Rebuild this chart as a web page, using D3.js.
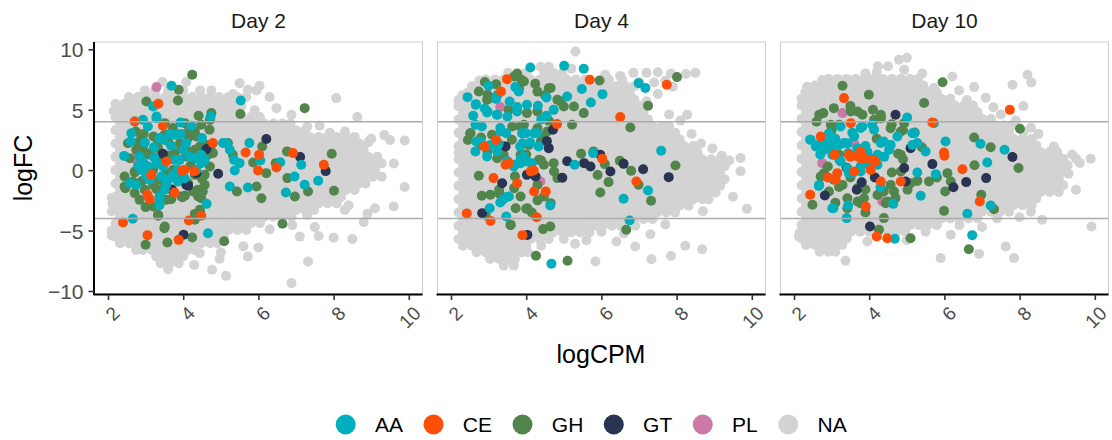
<!DOCTYPE html>
<html>
<head>
<meta charset="utf-8">
<script src="https://cdn.jsdelivr.net/npm/d3@7"></script>
<style>
  html, body { margin: 0; padding: 0; background: #ffffff; }
  svg { display: block; font-family: "Liberation Sans", Arial, Helvetica, sans-serif; }
</style>
</head>
<body>
<svg id="chart" width="1112" height="440"></svg>
<script>
// ---- data --------------------------------------------------------------
const days = ["Day 2", "Day 4", "Day 10"];
const groups = ["AA", "CE", "GH", "GT", "PL", "NA"];
const groupColors = ["#00AFBB", "#FC4E07", "#52854C", "#293352", "#CC79A7", "#D3D3D3"];
const xTicks = [2, 4, 6, 8, 10];
const yTicks = [-10, -5, 0, 5, 10];
const cutoffs = [-4, 4];

// Unannotated genes (NA), one string per logFC band: "logFC: logCPM logCPM ... logCPM/logFC"
const greyDay2 = [
  "7.3: 3.45 4.08 5.5/7.2 6.03/6.98",
  "6.6: 2.98 3.25 3.6 4.0 4.45 4.75 5.32/6.3 5.72/6.65 5.95",
  "6.05: 2.56 2.8 3.04 3.28 3.52 3.76 4.0 4.24 4.48 4.72 4.96 5.2 5.44 5.68 6.3 8.07/5.96",
  "5.5: 2.2 2.44 2.68 2.92 3.16 3.4 3.64 3.88 4.12 4.36 4.6 4.84 5.08 5.32/5.4 5.55/5.3",
  "4.95: 2.32 2.56 2.8 3.04 3.28 3.52 3.76 4.0 4.24 4.48 4.72 4.96 5.2 5.44 5.9 6.48/5.13 2.15/4.9",
  "4.4: 2.2 2.44 2.68 2.92 3.16 3.4 3.64 3.88 4.12 4.36 4.6 4.84 5.08 5.32 5.56 5.8 6.04 6.88/4.58 8.63/4.39",
  "3.85: 2.32 2.56 2.8 3.04 3.28 3.52 3.76 4.0 4.24 4.48 4.72 4.96 5.2 5.44 5.68 5.92 6.16 6.4 6.64 6.85 7.3/3.6 7.63/3.67",
  "3.3: 2.2 2.44 2.68 2.92 3.16 3.4 3.64 3.88 4.12 4.36 4.6 4.84 5.08 5.32 5.56 5.8 6.04 6.28 6.52 6.76 7.0 7.24 7.9/3.1 8.3/3.2",
  "2.75: 2.32 2.56 2.8 3.04 3.28 3.52 3.76 4.0 4.24 4.48 4.72 4.96 5.2 5.44 5.68 5.92 6.16 6.4 6.64 6.88 7.12 7.36 7.6 7.84 8.08 8.32 8.56 9.0/2.6 9.35/2.9",
  "2.2: 2.2 2.44 2.68 2.92 3.16 3.4 3.64 3.88 4.12 4.36 4.6 4.84 5.08 5.32 5.56 5.8 6.04 6.28 6.52 6.76 7.0 7.24 7.48 7.72 7.96 8.2 8.44 8.68 8.92/2.3 9.5/2.5 9.89/2.45",
  "1.65: 2.32 2.56 2.8 3.04 3.28 3.52 3.76 4.0 4.24 4.48 4.72 4.96 5.2 5.44 5.68 5.92 6.16 6.4 6.64 6.88 7.12 7.36 7.6 7.84 8.08 8.32 8.56 8.8",
  "1.1: 2.2 2.44 2.68 2.92 3.16 3.4 3.64 3.88 4.12 4.36 4.6 4.84 5.08 5.32 5.56 5.8 6.04 6.28 6.52 6.76 7.0 7.24 7.48 7.72 7.96 8.2 8.44 8.68 8.92 9.16",
  "0.55: 2.32 2.56 2.8 3.04 3.28 3.52 3.76 4.0 4.24 4.48 4.72 4.96 5.2 5.44 5.68 5.92 6.16 6.4 6.64 6.88 7.12 7.36 7.6 7.84 8.08 8.32 8.56 8.8 9.04 9.28 9.6",
  "0.0: 2.2 2.44 2.68 2.92 3.16 3.4 3.64 3.88 4.12 4.36 4.6 4.84 5.08 5.32 5.56 5.8 6.04 6.28 6.52 6.76 7.0 7.24 7.48 7.72 7.96 8.2 8.44 8.68 8.92 9.1",
  "-0.55: 2.32 2.56 2.8 3.04 3.28 3.52 3.76 4.0 4.24 4.48 4.72 4.96 5.2 5.44 5.68 5.92 6.16 6.4 6.64 6.88 7.12 7.36 7.6 7.84 8.08 8.32 8.56 8.8 9.04 9.28",
  "-1.1: 2.2 2.44 2.68 2.92 3.16 3.4 3.64 3.88 4.12 4.36 4.6 4.84 5.08 5.32 5.56 5.8 6.04 6.28 6.52 6.76 7.0 7.24 7.48 7.72 7.96 8.2 8.44 8.68 8.85 9.89/-1.4",
  "-1.65: 2.32 2.56 2.8 3.04 3.28 3.52 3.76 4.0 4.24 4.48 4.72 4.96 5.2 5.44 5.68 5.92 6.16 6.4 6.64 6.88 7.12 7.36 7.6 7.84 8.08 8.32 8.56",
  "-2.2: 2.2 2.44 2.68 2.92 3.16 3.4 3.64 3.88 4.12 4.36 4.6 4.84 5.08 5.32 5.56 5.8 6.04 6.28 6.52 6.76 7.0 7.24 7.48 7.72 7.96 8.2 2.1/-2.3",
  "-2.75: 2.32 2.56 2.8 3.04 3.28 3.52 3.76 4.0 4.24 4.48 4.72 4.96 5.2 5.44 5.68 5.92 6.16 6.4 6.64 6.88 7.12 7.36 7.6 7.84 8.08 8.4/-2.9 2.12/-2.8",
  "-3.3: 2.2 2.44 2.68 2.92 3.16 3.4 3.64 3.88 4.12 4.36 4.6 4.84 5.08 5.32 5.56 5.8 6.04 6.28 6.52 6.76 7.0 7.24 7.48 8.3 9.1/-3.15 9.6/-3.0 2.1/-3.4",
  "-3.85: 2.32 2.56 2.8 3.04 3.28 3.52 3.76 4.0 4.24 4.48 4.72 4.96 5.2 5.44 5.68 5.92 6.16 6.4 6.64 6.88 7.3/-3.7 8.9/-3.6",
  "-4.4: 2.2 2.44 2.68 2.92 3.16 3.4 3.64 3.88 4.12 4.36 4.6 4.84 5.08 5.32 5.56 5.8 6.04 6.9/-4.55 7.5/-4.7 8.8/-4.3",
  "-4.95: 2.32 2.56 2.8 3.04 3.28 3.52 3.76 4.0 4.24 4.48 4.72 4.96 5.2 5.44 5.68 6.3/-4.9 2.1/-5.0",
  "-5.5: 2.2 2.44 2.68 2.92 3.16 3.4 3.64 3.88 4.12 4.36 4.6 4.84 5.08 7.1/-5.5 7.6/-5.45 8.0/-5.6 8.5/-5.7 2.1/-5.4",
  "-6.05: 2.32 2.56 2.8 3.04 3.28 3.52 3.76 4.0 4.24 4.48 4.72 4.9 5.6/-6.3 6.0/-6.4",
  "-6.6: 2.75 2.92 3.16 3.4 3.64 3.88 4.12 4.3 5.0/-6.8",
  "-7.15: 3.28 3.52 3.76 4.0 4.44/-6.87 4.97/-7.34 5.72 7.32/-7.56",
  "-7.7: 3.4 3.64 3.88 4.29/-7.84",
  "-8.2: 3.6 4.77/-8.25 5.14/-8.75",
  "-9.35: 6.88"
];
const greyDay4 = [
  "9.82: 5.31",
  "8.55: 4.38 4.6 5.2/8.4",
  "8.05: 3.52 3.76 4.0 4.48 4.72 4.96 6.1/7.9 6.5/7.8 6.85 7.2 7.5/8.1 7.85/8.0 8.25/7.95 8.5/8.05",
  "7.5: 2.92 3.16 3.4 3.64 3.88 4.12 4.36 4.6 4.84 5.08 5.32 5.56 6.2 6.55 7.0/7.3 7.4/7.25 7.7/7.4 2.75/7.4",
  "6.95: 2.56 2.8 3.04 3.28 3.52 3.76 4.0 4.24 4.48 4.72 4.96 5.2 5.44 5.68 5.92 6.16 6.4 6.64 6.88 7.9/6.9",
  "6.4: 2.44 2.68 2.92 3.16 3.4 3.64 3.88 4.12 4.36 4.6 4.84 5.08 5.32 5.56 5.8 6.04 6.28 6.52 6.76 7.5/6.3 2.3/6.2",
  "5.85: 2.32 2.56 2.8 3.04 3.28 3.52 3.76 4.0 4.24 4.48 4.72 4.96 5.2 5.44 5.68 5.92 6.16 6.4 6.64 6.88 7.2/5.7 2.2/5.8",
  "5.3: 2.2 2.44 2.68 2.92 3.16 3.4 3.64 3.88 4.12 4.36 4.6 4.84 5.08 5.32 5.56 5.8 6.04 6.28 6.52 6.76 7.0",
  "4.75: 2.32 2.56 2.8 3.04 3.28 3.52 3.76 4.0 4.24 4.48 4.72 4.96 5.2 5.44 5.68 5.92 6.16 6.4 6.64 6.88 7.12 7.8/4.6 8.28/4.58",
  "4.2: 2.2 2.44 2.68 2.92 3.16 3.4 3.64 3.88 4.12 4.36 4.6 4.84 5.08 5.32 5.56 5.8 6.04 6.28 6.52 6.76 7.0 7.24 8.1/4.1",
  "3.65: 2.32 2.56 2.8 3.04 3.28 3.52 3.76 4.0 4.24 4.48 4.72 4.96 5.2 5.44 5.68 5.92 6.16 6.4 6.64 6.88 7.12 7.36 7.6 7.8",
  "3.1: 2.2 2.44 2.68 2.92 3.16 3.4 3.64 3.88 4.12 4.36 4.6 4.84 5.08 5.32 5.56 5.8 6.04 6.28 6.52 6.76 7.0 7.24 7.48 7.72 7.96 8.4/3.0",
  "2.55: 2.32 2.56 2.8 3.04 3.28 3.52 3.76 4.0 4.24 4.48 4.72 4.96 5.2 5.44 5.68 5.92 6.16 6.4 6.64 6.88 7.12 7.36 7.6 7.84 8.08 8.65/2.2",
  "2.0: 2.2 2.44 2.68 2.92 3.16 3.4 3.64 3.88 4.12 4.36 4.6 4.84 5.08 5.32 5.56 5.8 6.04 6.28 6.52 6.76 7.0 7.24 7.48 7.72 7.96 8.2 8.44 8.95/1.8",
  "1.45: 2.32 2.56 2.8 3.04 3.28 3.52 3.76 4.0 4.24 4.48 4.72 4.96 5.2 5.44 5.68 5.92 6.16 6.4 6.64 6.88 7.12 7.36 7.6 7.84 8.08 8.32 8.56 9.2/1.2 2.2/1.46",
  "0.9: 2.2 2.44 2.68 2.92 3.16 3.4 3.64 3.88 4.12 4.36 4.6 4.84 5.08 5.32 5.56 5.8 6.04 6.28 6.52 6.76 7.0 7.24 7.48 7.72 7.96 8.2 8.44 8.68 8.92 9.16 9.4/0.8 9.7/1.0",
  "0.35: 2.32 2.56 2.8 3.04 3.28 3.52 3.76 4.0 4.24 4.48 4.72 4.96 5.2 5.44 5.68 5.92 6.16 6.4 6.64 6.88 7.12 7.36 7.6 7.84 8.08 8.32 8.56 8.8 9.04 9.28",
  "-0.2: 2.2 2.44 2.68 2.92 3.16 3.4 3.64 3.88 4.12 4.36 4.6 4.84 5.08 5.32 5.56 5.8 6.04 6.28 6.52 6.76 7.0 7.24 7.48 7.72 7.96 8.2 8.44 8.68 8.92 9.16 9.7/-0.1",
  "-0.75: 2.32 2.56 2.8 3.04 3.28 3.52 3.76 4.0 4.24 4.48 4.72 4.96 5.2 5.44 5.68 5.92 6.16 6.4 6.64 6.88 7.12 7.36 7.6 7.84 8.08 8.32 8.56 8.8 9.04 9.28",
  "-1.3: 2.2 2.44 2.68 2.92 3.16 3.4 3.64 3.88 4.12 4.36 4.6 4.84 5.08 5.32 5.56 5.8 6.04 6.28 6.52 6.76 7.0 7.24 7.48 7.72 7.96 8.2 8.44 8.68 8.92 9.16",
  "-1.85: 2.32 2.56 2.8 3.04 3.28 3.52 3.76 4.0 4.24 4.48 4.72 4.96 5.2 5.44 5.68 5.92 6.16 6.4 6.64 6.88 7.12 7.36 7.6 7.84 8.08 8.32 8.56 8.8 9.04 9.5/-2.2",
  "-2.4: 2.2 2.44 2.68 2.92 3.16 3.4 3.64 3.88 4.12 4.36 4.6 4.84 5.08 5.32 5.56 5.8 6.04 6.28 6.52 6.76 7.0 7.24 7.48 7.72 7.96 8.2 8.44 8.68 8.85",
  "-2.95: 2.32 2.56 2.8 3.04 3.28 3.52 3.76 4.0 4.24 4.48 4.72 4.96 5.2 5.44 5.68 5.92 6.16 6.4 6.64 6.88 7.12 7.36 7.6 7.84 8.08 8.32 9.87/-3.2",
  "-3.5: 2.2 2.44 2.68 2.92 3.16 3.4 3.64 3.88 4.12 4.36 4.6 4.84 5.08 5.32 5.56 5.8 6.04 6.28 6.52 6.76 7.0 7.24 7.48 7.72 7.96 8.7/-3.4",
  "-4.05: 2.32 2.56 2.8 3.04 3.28 3.52 3.76 4.0 4.24 4.48 4.72 4.96 5.2 5.44 5.68 5.92 6.16 6.4 6.64 6.88 7.12 7.36",
  "-4.6: 2.2 2.44 2.68 2.92 3.16 3.4 3.64 3.88 4.12 4.36 4.6 4.84 5.08 5.32 5.56 5.8 6.04 6.28 6.52 6.9 7.7/-4.5",
  "-5.15: 2.32 2.56 2.8 3.04 3.28 3.52 3.76 4.0 4.24 4.48 4.72 4.96 5.2 5.44 5.68 6.0/-5.1 6.6/-5.25 7.3/-5.3",
  "-5.7: 2.2 2.44 2.68 2.92 3.16 3.4 3.64 3.88 4.12 4.36 4.6 5.0 5.6/-5.8 6.4/-5.9",
  "-6.25: 2.32 2.56 2.8 3.04 3.28 3.52 3.76 4.0 4.4 5.3/-6.1 6.9/-6.32 8.23/-6.26",
  "-6.8: 2.68 2.92 3.16 3.4 3.64 3.88 4.05 8.68/-6.54",
  "-7.35: 3.04 3.28 3.52 3.7 5.84/-7.56 7.33/-7.37 7.85/-7.1",
  "-7.9: 3.4 3.67"
];
const greyDay10 = [
  "9.13: 4.79 5.0/9.3",
  "8.6: 4.23 4.5 4.93/8.3",
  "8.0: 3.9 4.2/8.1 5.41 8.21/7.89",
  "7.55: 2.92 3.16 3.4 3.64 3.88 4.12 4.36 4.6 4.84 5.08 5.3 6.21/7.75 8.31/7.26 2.75/7.45",
  "7.0: 2.56 2.8 3.04 3.28 3.52 3.76 4.0 4.24 4.48 4.72 4.96 5.2 5.44 2.35/6.9 5.72/6.79 6.79/6.87 7.81/7.06",
  "6.45: 2.3 2.44 2.68 2.92 3.16 3.4 3.64 3.88 4.12 4.36 4.6 4.84 5.08 5.32 5.56 5.8 6.39/6.6",
  "5.9: 2.32 2.56 2.8 3.04 3.28 3.52 3.76 4.0 4.24 4.48 4.72 4.96 5.2 5.44 5.68 5.92 6.16 6.6/5.8 7.1/6.0 2.2/5.9",
  "5.35: 2.2 2.44 2.68 2.92 3.16 3.4 3.64 3.88 4.12 4.36 4.6 4.84 5.08 5.32 5.56 5.8 6.04 6.28 6.52 6.76 7.3/5.2 8.1/5.3",
  "4.8: 2.32 2.56 2.8 3.04 3.28 3.52 3.76 4.0 4.24 4.48 4.72 4.96 5.2 5.44 5.68 5.92 6.16 6.4 6.64 6.88 7.5/4.6",
  "4.25: 2.2 2.44 2.68 2.92 3.16 3.4 3.64 3.88 4.12 4.36 4.6 4.84 5.08 5.32 5.56 5.8 6.04 6.28 6.52 6.76 7.0 7.24 7.9/4.1",
  "3.7: 2.32 2.56 2.8 3.04 3.28 3.52 3.76 4.0 4.24 4.48 4.72 4.96 5.2 5.44 5.68 5.92 6.16 6.4 6.64 6.88 7.12 7.36 7.6 7.8 8.3/3.5",
  "3.15: 2.2 2.44 2.68 2.92 3.16 3.4 3.64 3.88 4.12 4.36 4.6 4.84 5.08 5.32 5.56 5.8 6.04 6.28 6.52 6.76 7.0 7.24 7.48 7.72 8.1 8.5/3.0",
  "2.6: 2.32 2.56 2.8 3.04 3.28 3.52 3.76 4.0 4.24 4.48 4.72 4.96 5.2 5.44 5.68 5.92 6.16 6.4 6.64 6.88 7.12 7.36 7.6 7.84 8.08 8.32",
  "2.05: 2.2 2.44 2.68 2.92 3.16 3.4 3.64 3.88 4.12 4.36 4.6 4.84 5.08 5.32 5.56 5.8 6.04 6.28 6.52 6.76 7.0 7.24 7.48 7.72 7.96 8.2 8.44 8.91/1.96",
  "1.5: 2.32 2.56 2.8 3.04 3.28 3.52 3.76 4.0 4.24 4.48 4.72 4.96 5.2 5.44 5.68 5.92 6.16 6.4 6.64 6.88 7.12 7.36 7.6 7.84 8.08 8.32 8.56 8.8 9.0 9.4/1.3",
  "0.95: 2.2 2.44 2.68 2.92 3.16 3.4 3.64 3.88 4.12 4.36 4.6 4.84 5.08 5.32 5.56 5.8 6.04 6.28 6.52 6.76 7.0 7.24 7.48 7.72 7.96 8.2 8.44 8.68 8.92 9.16 9.5 9.89",
  "0.4: 2.32 2.56 2.8 3.04 3.28 3.52 3.76 4.0 4.24 4.48 4.72 4.96 5.2 5.44 5.68 5.92 6.16 6.4 6.64 6.88 7.12 7.36 7.6 7.84 8.08 8.32 8.56 8.8 9.04 9.28 9.6/0.6",
  "-0.15: 2.2 2.44 2.68 2.92 3.16 3.4 3.64 3.88 4.12 4.36 4.6 4.84 5.08 5.32 5.56 5.8 6.04 6.28 6.52 6.76 7.0 7.24 7.48 7.72 7.96 8.2 8.44 8.68 8.92 9.16 9.3/-0.3",
  "-0.7: 2.32 2.56 2.8 3.04 3.28 3.52 3.76 4.0 4.24 4.48 4.72 4.96 5.2 5.44 5.68 5.92 6.16 6.4 6.64 6.88 7.12 7.36 7.6 7.84 8.08 8.32 8.56 8.8 9.04",
  "-1.25: 2.2 2.44 2.68 2.92 3.16 3.4 3.64 3.88 4.12 4.36 4.6 4.84 5.08 5.32 5.56 5.8 6.04 6.28 6.52 6.76 7.0 7.24 7.48 7.72 7.96 8.2 8.44 8.68 8.92 9.16 9.5/-1.63",
  "-1.8: 2.32 2.56 2.8 3.04 3.28 3.52 3.76 4.0 4.24 4.48 4.72 4.96 5.2 5.44 5.68 5.92 6.16 6.4 6.64 6.88 7.12 7.36 7.6 7.84 8.08 8.32 8.56 8.8 9.04",
  "-2.35: 2.2 2.44 2.68 2.92 3.16 3.4 3.64 3.88 4.12 4.36 4.6 4.84 5.08 5.32 5.56 5.8 6.04 6.28 6.52 6.76 7.0 7.24 7.48 7.72 7.96 8.2 8.44",
  "-2.9: 2.32 2.56 2.8 3.04 3.28 3.52 3.76 4.0 4.24 4.48 4.72 4.96 5.2 5.44 5.68 5.92 6.16 6.4 6.64 6.88 7.12 7.36 7.6 7.84 8.08 8.32",
  "-3.45: 2.2 2.44 2.68 2.92 3.16 3.4 3.64 3.88 4.12 4.36 4.6 4.84 5.08 5.32 5.56 5.8 6.04 6.28 6.52 6.76 7.0 7.24 7.48 7.72 8.3",
  "-4.0: 2.32 2.56 2.8 3.04 3.28 3.52 3.76 4.0 4.24 4.48 4.72 4.96 5.2 5.44 5.68 5.92 6.16 6.4 6.64 6.88 7.4 8.0/-3.9 8.6/-4.1",
  "-4.55: 2.2 2.44 2.68 2.92 3.16 3.4 3.64 3.88 4.12 4.36 4.6 4.84 5.08 5.32 5.56 5.8 6.4 7.0/-4.7 9.91/-4.66",
  "-5.1: 2.32 2.56 2.8 3.04 3.28 3.52 3.76 4.0 4.24 4.48 4.72 4.96 5.5 6.17/-5.35 2.15/-5.2",
  "-5.65: 2.2 2.44 2.68 2.92 3.16 3.4 3.95/-5.9 5.0/-5.8 2.13/-5.5",
  "-6.2: 2.32 2.56 2.8 3.04 3.28 7.63/-6.32",
  "-6.75: 2.68 2.92 3.1 6.92/-6.93",
  "-7.35: 3.37/-7.5 5.9/-7.28 7.85/-7.28"
];

// Annotated genes: [logCPM, logFC]
const day2AA = [[3.69,6.98],[5.53,5.77],[3.2,5.27],[3.29,4.44],[2.93,4.16],[2.71,4.03],[3.93,3.95],[4.22,3.67],[4.73,4.44],[3.64,3.0],[3.93,3.0],[4.5,2.65],[2.6,2.37],[2.98,2.29],[3.46,2.51],[3.22,1.9],[3.68,2.01],[4.08,2.23],[2.43,1.18],[2.84,1.13],[3.23,1.05],[2.93,0.71],[2.8,0.36],[3.06,0.3],[3.46,0.3],[3.77,0.85],[4.17,1.13],[4.48,1.27],[4.57,0.85],[3.86,0.02],[3.42,-0.52],[3.73,-0.39],[4.04,-0.67],[4.35,0.02],[3.02,-0.52],[2.58,-1.08],[3.55,-1.2],[3.37,-2.18],[3.37,-2.9],[4.62,-2.79],[5.24,-1.35],[5.72,-1.44],[5.15,2.23],[5.76,2.24],[5.35,0.85],[6.05,0.8],[6.58,0.66],[6.96,-0.52],[7.14,0.44],[7.59,-0.88],[7.23,-1.21],[6.73,-1.85],[5.5,0.58],[5.37,-0.03],[5.24,1.68],[5.06,2.24],[4.66,-5.22],[2.66,-4.03],[3.29,4.3],
  [3.06,3.61],[2.62,3.06],[3.37,2.65],[3.77,2.92],[4.0,1.68],[4.31,0.99],[3.91,0.85],[2.89,0.02],[3.29,0.57],[3.6,-0.8],[3.86,-0.94],[3.11,-0.8],[2.75,-1.22],[3.51,-1.63],[3.37,-2.6],[4.48,0.57]];
const day2CE = [[3.34,5.49],[3.46,3.67],[2.71,4.03],[4.79,2.24],[5.66,1.46],[6.02,1.27],[6.92,1.41],[7.74,0.44],[5.99,-0.03],[6.48,0.22],[3.55,0.72],[3.98,-0.03],[3.15,-0.39],[3.77,-1.85],[3.05,-2.04],[3.11,-2.4],[4.15,-4.17],[4.48,-3.78],[2.4,-4.33],[3.05,-5.38],[3.88,-5.77],[4.04,0.03],[4.3,-0.1]];
const day2GH = [[4.24,7.89],[3.88,6.65],[3.86,5.77],[3.02,5.68],[7.23,5.13],[5.52,4.64],[4.41,4.5],[4.75,4.72],[2.74,3.2],[2.95,3.0],[3.21,2.79],[3.73,3.48],[4.7,3.34],[4.35,2.79],[6.1,1.96],[6.76,1.55],[7.95,1.35],[5.32,1.27],[5.19,2.24],[4.79,1.41],[4.08,1.13],[5.86,0.63],[6.21,-0.25],[6.46,0.58],[6.77,-0.66],[5.95,-1.35],[5.43,-1.77],[6.08,-2.32],[7.32,-1.77],[6.97,-2.18],[8.01,-1.71],[6.64,-4.44],[5.09,-5.88],[4.24,-5.57],[3.58,-5.99],[3.5,-4.8],[3.0,-6.18],[3.34,-3.78],[2.46,-1.49],[2.71,-1.9],[2.84,-2.46],[3.0,-3.06],[3.29,-1.57],[3.68,-2.4],[3.98,-2.24],[4.39,-1.63],[4.48,-2.32],[4.44,-3.28],[2.71,-0.19],[3.06,0.3],[2.58,0.99],[2.8,2.29],[2.93,1.96],[3.33,2.37],[3.95,1.82],[4.31,1.68],[4.75,2.09],[4.66,1.27],[2.44,-1.35],[3.33,-3.7],[3.51,-4.66],[4.04,-2.12],[4.4,-2.18],[4.31,-3.62],[3.37,-0.8],[3.86,0.85],[4.73,1.55],[3.6,1.2],[4.2,0.4],[3.1,1.3],[2.9,-0.9],[4.1,3.1],[3.5,2.9],[4.5,-0.7],
  [2.89,2.8],[2.53,2.23],[2.75,1.68],[2.98,1.4],[2.71,-0.11],[2.44,-0.52],[2.66,-0.94],[2.98,-1.63],[3.2,-1.22],[3.51,-1.35],[3.73,-1.77],[3.95,-2.18],[4.26,-1.77],[4.52,-1.77],[4.57,-1.22],[3.55,-2.46],[3.2,-3.0],[4.44,-3.42],[4.31,-4.11],[3.51,3.89],[4.04,3.89],[4.48,3.75],[4.71,4.16],[4.31,3.2],[4.13,2.65],[3.91,2.23],[3.6,2.37],[3.33,1.82],[3.11,1.4],[3.42,1.13],[3.77,1.4],[4.13,1.54],[4.44,1.96],[4.62,2.09],[4.71,0.3],[4.57,-0.39],[4.31,-0.39],[4.13,-1.08],[3.95,-0.39],[3.73,0.02],[3.55,-0.25],[3.2,0.02]];
const day2GT = [[6.21,2.57],[7.11,1.08],[7.79,-0.08],[4.93,-0.3],[4.62,1.74],[4.08,-1.21],[4.35,-0.25],[4.01,-5.35],[3.46,1.35],[4.13,-1.3],[3.7,-1.6]];
const day2PL = [[3.29,6.87],[2.72,0.92]];

const day4AA = [[4.11,8.5],[5.01,8.64],[5.53,8.39],[6.99,7.2],[7.17,6.79],[3.0,6.98],[2.44,6.04],[2.66,5.46],[3.24,6.24],[3.71,6.87],[3.8,6.51],[3.56,5.68],[3.76,5.22],[4.02,5.41],[4.31,5.33],[4.54,6.02],[5.09,6.1],[5.48,6.71],[5.72,5.6],[6.03,6.29],[4.73,4.99],[4.54,4.5],[2.59,4.5],[2.65,3.75],[2.96,4.77],[3.22,4.58],[2.82,3.61],[3.31,3.48],[3.47,3.06],[3.89,3.06],[2.67,2.37],[2.96,1.13],[2.65,1.55],[3.27,2.18],[3.84,1.96],[4.11,2.29],[4.33,1.96],[3.93,1.13],[4.29,3.06],[3.67,0.3],[4.15,0.58],[5.78,1.41],[5.29,0.44],[7.59,1.6],[7.24,-1.68],[6.59,-2.37],[6.75,-4.17],[3.47,-2.24],[3.31,-2.68],[3.03,-3.15],[3.47,-3.84],[4.64,-2.92],[4.67,-7.75],[3.5,0.75],[3.85,0.9],[3.2,5.9],[4.4,4.2],[2.9,5.1],
  [2.66,5.41],[2.97,4.85],[3.23,4.58],[3.5,4.44],[3.76,4.85],[3.32,3.2],[2.79,2.37],[3.05,2.09],[3.23,1.54],[3.99,3.06],[4.21,3.06],[3.9,2.23],[3.68,0.44],[3.85,0.58],[4.03,0.72],[3.54,-2.18],[3.37,-2.46]];
const day4CE = [[3.49,7.53],[3.33,6.51],[5.69,7.48],[7.74,7.06],[6.5,4.39],[4.82,3.81],[2.89,1.96],[3.45,0.44],[3.54,0.58],[4.2,-0.03],[3.13,-0.66],[3.76,-1.08],[4.21,-1.77],[4.52,-1.77],[6.02,0.95],[6.93,-0.94],[2.42,-3.58],[3.05,-4.2],[4.28,-3.9],[3.9,-5.38],[3.2,2.5],[4.12,-0.1]];
const day4GH = [[3.76,7.97],[3.87,7.48],[4.24,7.15],[5.95,7.42],[8.01,7.7],[7.24,5.33],[6.77,3.53],[5.22,3.75],[5.53,4.72],[2.74,6.51],[2.96,5.82],[3.53,4.99],[4.02,4.72],[4.91,5.68],[2.51,3.06],[3.09,2.93],[3.84,3.61],[3.62,2.51],[4.46,2.79],[2.74,-0.47],[4.73,0.58],[5.46,1.35],[5.79,1.55],[6.09,0.5],[6.49,0.77],[6.79,-0.06],[6.99,-1.21],[7.32,-2.54],[7.97,0.39],[5.97,-1.85],[6.19,-0.99],[2.82,-2.12],[3.05,-2.04],[3.58,-4.53],[4.0,-3.2],[4.45,-4.88],[4.64,-4.66],[4.26,-7.09],[5.1,-7.5],[6.66,-4.94],[2.9,7.3],[3.2,7.1],[4.5,6.2],[4.3,6.5],[4.65,6.79],[2.45,2.5],[3.4,1.3],[4.0,1.3],[4.4,0.8],[3.7,-0.5],[4.3,-2.5],[4.15,-3.5],[5.9,-0.4],[3.3,-2.0],[4.6,4.1],[2.8,2.7],[5.27,5.27],[3.68,7.75],[4.03,-3.15],
  [2.97,6.23],[3.14,5.96],[3.94,7.34],[3.81,6.78],[4.6,6.78],[4.83,5.82],[5.0,5.27],[2.52,3.06],[2.79,2.09],[2.97,1.54],[3.23,0.99],[3.63,3.61],[3.94,3.75],[4.3,3.47],[4.56,3.2],[3.85,1.27],[4.34,0.85],[4.47,0.44],[4.74,-0.11],[4.83,-0.66],[3.28,-1.63],[3.68,-1.49],[3.85,-2.18],[4.3,-1.22],[4.47,-2.18],[4.65,-2.73],[3.72,-3.15],[2.92,-3.7],[3.59,-4.53],[4.3,4.85],[4.39,2.37],[4.07,2.09],[3.41,1.96]];
const day4GT = [[4.71,3.34],[4.6,1.82],[5.09,0.74],[5.54,0.58],[5.71,0.3],[5.97,1.27],[6.24,-0.11],[6.59,0.52],[7.11,0.08],[7.79,-0.58],[4.96,-0.63],[4.02,-0.39],[3.36,-1.08],[2.83,-3.56],[4.03,-5.36],[4.55,2.4],[3.45,1.95],[4.25,-0.53]];
const day4PL = [[3.31,5.22],[4.38,-0.94]];

const day10AA = [[5.01,4.36],[5.72,3.89],[2.43,2.51],[2.58,1.96],[2.93,3.06],[3.24,3.61],[3.77,3.48],[4.08,3.75],[4.75,2.79],[5.15,3.06],[5.28,2.24],[6.03,2.37],[5.5,1.55],[4.53,1.68],[4.31,2.24],[3.33,2.24],[3.02,1.68],[3.44,1.41],[3.68,1.55],[4.04,0.99],[4.17,0.58],[3.77,0.3],[3.46,-0.25],[5.28,-0.19],[5.77,-0.33],[7.14,0.63],[6.96,2.18],[7.6,1.68],[5.37,-2.12],[4.64,-2.79],[4.3,-1.41],[2.66,-1.3],[3.05,-3.15],[3.44,-2.92],[3.4,-3.97],[7.23,-2.92],[6.61,-3.61],[6.74,-5.38],[4.68,-5.68],[2.8,2.3],[3.1,2.6],[3.6,2.8],[2.7,1.3],[3.9,2.0],[3.2,0.9],[4.4,1.1],[3.55,3.1],
  [2.44,2.51],[2.62,2.09],[2.8,1.68],[2.98,2.37],[3.2,2.09],[3.42,2.23],[3.69,1.82],[3.95,1.54],[4.22,1.27],[4.39,2.37],[4.57,2.09],[3.42,0.16],[3.55,-0.25],[3.77,-0.11],[3.99,0.44],[4.22,0.44],[3.24,0.71],[3.02,1.27],[2.67,-1.22],[3.02,-3.15],[3.82,3.61],[4.13,3.34],[5.2,3.06],[5.15,2.09]];
const day10CE = [[3.33,5.96],[3.51,3.89],[2.71,2.78],[3.08,1.27],[3.15,-0.25],[3.11,-0.8],[3.77,0.99],[4.17,0.71],[4.31,-0.94],[4.84,-0.94],[5.68,3.95],[5.99,1.46],[6.48,0.08],[6.94,-2.59],[7.74,4.99],[2.43,-2.04],[3.91,-3.01],[4.2,-5.49],[4.48,-5.63],[3.77,1.54],[4.04,0.02],[3.5,1.1],[2.9,-0.6],[6.0,1.2],
  [3.69,1.13],[3.86,0.99],[4.08,0.85],[3.46,1.27],[3.6,-0.11]];
const day10GH = [[3.29,6.98],[5.95,7.28],[3.99,6.24],[5.46,5.55],[2.78,4.72],[3.06,5.13],[3.82,4.58],[4.31,4.58],[5.21,3.12],[8.01,3.42],[6.79,2.7],[7.23,1.9],[7.97,0.17],[6.08,-0.25],[6.17,-0.94],[6.98,-2.04],[7.32,-3.23],[5.99,-3.37],[6.02,-1.77],[5.59,-0.94],[5.28,-0.89],[4.77,1.35],[2.71,-0.53],[2.49,-2.87],[3.42,-2.32],[4.39,-1.77],[4.39,-3.97],[4.26,-4.94],[5.1,-5.63],[6.65,-6.54],[3.5,5.3],[4.1,5.0],[4.93,3.89],[2.6,4.0],[3.0,3.3],[4.6,3.8],[4.9,3.3],[3.2,1.27],[2.9,0.3],[3.5,-0.6],[3.2,-1.4],[3.9,-1.6],[4.6,-0.2],[4.9,0.9],[5.4,1.9],[3.1,-2.7],[3.9,-3.5],[4.7,-2.3],[2.9,2.0],[4.2,2.6],[5.8,-0.6],[6.8,0.4],[5.1,-1.08],[3.77,-2.73],[4.44,-2.73],
  [2.8,-0.25],[3.06,-0.8],[2.93,-1.77],[3.29,-1.22],[3.69,-1.49],[3.42,-3.15],[3.69,-2.6],[3.86,-2.32],[4.48,-2.6],[4.66,-1.77],[4.57,-1.22],[5.02,-1.63],[3.51,4.85],[3.69,4.85],[4.31,4.3],[4.57,3.47],[4.84,3.2],[2.98,3.75],[3.2,3.75],[2.67,4.58],[4.13,4.16],[4.22,-2.05],[4.84,-0.11],[4.84,1.27]];
const day10GT = [[4.7,4.58],[5.1,1.82],[5.68,0.5],[4.93,0.17],[4.97,-0.94],[6.24,-1.41],[6.58,-0.99],[7.11,-0.66],[7.81,1.08],[2.82,-2.1],[3.67,-1.63],[4.02,-4.67],[3.4,0.2],[4.15,-0.6],[3.8,-1.0]];
const day10PL = [[3.29,4.72],[2.75,0.58],[4.35,-2.59],[3.6,2.2]];

// ---- helpers -----------------------------------------------------------
function parseBands(rows) {
  const pts = [];
  rows.forEach(r => {
    const [yS, xs] = r.split(":");
    const yv = +yS;
    xs.trim().split(/\s+/).forEach(t => {
      if (t.includes("/")) { const [a, b] = t.split("/"); pts.push([+a, +b]); }
      else pts.push([+t, yv]);
    });
  });
  return pts;
}

const panels = [
  { title: days[0], NA: parseBands(greyDay2), AA: day2AA, CE: day2CE, GH: day2GH, GT: day2GT, PL: day2PL },
  { title: days[1], NA: parseBands(greyDay4), AA: day4AA, CE: day4CE, GH: day4GH, GT: day4GT, PL: day4PL },
  { title: days[2], NA: parseBands(greyDay10), AA: day10AA, CE: day10CE, GH: day10GH, GT: day10GT, PL: day10PL }
];
const drawOrder = ["NA", "PL", "GH", "GT", "AA", "CE"];
const color = d3.scaleOrdinal().domain(groups).range(groupColors);

// ---- layout ------------------------------------------------------------
const svg = d3.select("#chart");
const panelLeft = [94.5, 437.5, 780.5];
const panelW = 328, panelTop = 42, panelBottom = 294;
const ptR = 5;
const yScale = d3.scaleLinear().domain([-10.25, 10.604]).range([panelBottom, panelTop]);

panels.forEach((p, i) => {
  const x0 = panelLeft[i];
  const xScale = d3.scaleLinear().domain([1.641, 10.364]).range([x0, x0 + panelW]);
  const g = svg.append("g");

  // facet title
  g.append("text")
    .attr("x", x0 + panelW / 2).attr("y", 28)
    .attr("text-anchor", "middle")
    .attr("font-size", 21).attr("fill", "#1a1a1a")
    .text(p.title);

  // points
  const clip = "clip" + i;
  svg.append("clipPath").attr("id", clip)
    .append("rect").attr("x", x0).attr("y", panelTop).attr("width", panelW).attr("height", panelBottom - panelTop);
  const pg = g.append("g").attr("clip-path", `url(#${clip})`);
  drawOrder.forEach(key => {
    pg.append("g").selectAll("circle").data(p[key]).join("circle")
      .attr("cx", d => xScale(d[0])).attr("cy", d => yScale(d[1]))
      .attr("r", ptR).attr("fill", color(key));
  });

  // cutoff lines
  g.selectAll("line.cut").data(cutoffs).join("line")
    .attr("class", "cut")
    .attr("x1", x0).attr("x2", x0 + panelW)
    .attr("y1", d => yScale(d)).attr("y2", d => yScale(d))
    .attr("stroke", "#ABABAB").attr("stroke-width", 1.6);

  // panel border
  g.append("rect")
    .attr("x", x0).attr("y", panelTop).attr("width", panelW).attr("height", panelBottom - panelTop)
    .attr("fill", "none").attr("stroke", "#CFCFCF").attr("stroke-width", 1);

  // x axis
  const xa = g.append("g").attr("transform", `translate(0,${panelBottom})`)
    .call(d3.axisBottom(xScale).tickValues(xTicks).tickSize(6).tickSizeOuter(0));
  xa.select(".domain").attr("stroke", "#000").attr("stroke-width", 2)
    .attr("d", `M${x0 - 1},0.5H${x0 + panelW}`);
  xa.selectAll(".tick line").attr("stroke", "#333").attr("stroke-width", 1.6).attr("y1", 1);
  xa.selectAll(".tick text")
    .attr("font-size", 19).attr("fill", "#4D4D4D")
    .attr("font-family", "Liberation Sans, Arial, sans-serif")
    .attr("text-anchor", "end").attr("dominant-baseline", "central")
    .attr("x", 8).attr("y", 16).attr("dy", null)
    .attr("transform", "rotate(-45,8,16)");

  // y axis (first panel only)
  if (i === 0) {
    const ya = g.append("g").attr("transform", `translate(${x0},0)`)
      .call(d3.axisLeft(yScale).tickValues(yTicks)
        .tickFormat(d => d < 0 ? "\u2212" + Math.abs(d) : d).tickSize(6).tickSizeOuter(0));
    ya.select(".domain").attr("stroke", "#000").attr("stroke-width", 2)
      .attr("d", `M-0.5,${panelTop}V${panelBottom + 1}`);
    ya.selectAll(".tick line").attr("stroke", "#333").attr("stroke-width", 1.6);
    ya.selectAll(".tick text")
      .attr("font-size", 21).attr("fill", "#4D4D4D")
      .attr("font-family", "Liberation Sans, Arial, sans-serif")
      .attr("x", -11).attr("dy", "0.36em");
  }
});

// axis titles
svg.append("text")
  .attr("x", 601).attr("y", 363)
  .attr("text-anchor", "middle").attr("font-size", 25).attr("fill", "#000")
  .text("logCPM");
svg.append("text")
  .attr("transform", "translate(32,168) rotate(-90)")
  .attr("text-anchor", "middle").attr("font-size", 25).attr("fill", "#000")
  .text("logFC");

// legend
const legend = svg.append("g");
let lx = 335.7;
groups.forEach(k => {
  legend.append("circle").attr("cx", lx + 10).attr("cy", 424.5).attr("r", 10).attr("fill", color(k));
  const t = legend.append("text")
    .attr("x", lx + 39.3).attr("y", 424.5)
    .attr("dominant-baseline", "central")
    .attr("font-size", 21).attr("fill", "#000")
    .text(k);
  lx = lx + 39.3 + t.node().getComputedTextLength() + 20.5;
});
</script>
</body>
</html>
